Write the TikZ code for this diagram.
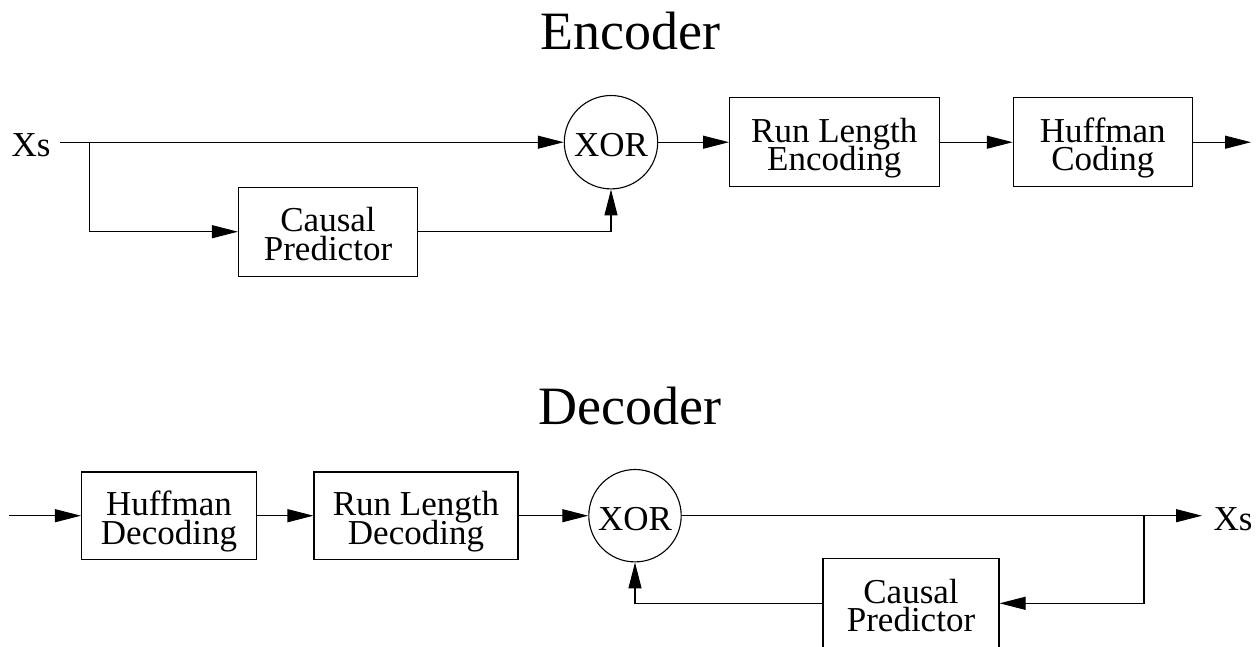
\documentclass[tikz,border=0pt]{standalone}
\usepackage{fontspec}
\setmainfont{Liberation Serif}
\usetikzlibrary{arrows.meta}
\newcommand\twolines[2]{\vtop{\baselineskip=28.3pt\lineskiplimit=-100pt\lineskip=0pt\halign{\hfil##\hfil\cr#1\cr#2\cr}}}
\begin{document}
\begin{tikzpicture}[x=1pt,y=-1pt,line width=1.1pt,
  blockbox/.style={draw,rectangle,inner sep=0pt,minimum height=89pt,text height=14pt,text depth=14pt,font=\fontsize{35}{28.3}\selectfont},
  xorbox/.style={draw,circle,inner sep=0pt,minimum size=93.4pt,text height=29.5pt,text depth=0pt,font=\fontsize{35}{42}\selectfont},
  arr/.style={-{Triangle[length=26pt,width=13pt]}},
  title/.style={font=\fontsize{54}{60}\selectfont,anchor=base,inner sep=0pt},
  lbl/.style={font=\fontsize{35}{42}\selectfont,inner sep=0pt,text height=29.5pt,text depth=0pt}]
\useasboundingbox (0,0) rectangle (1258,646);
% titles
\node[title] (enc) at (630.5,49) {Encoder};
\node[title] (dec) at (630,424) {Decoder};
% encoder
\node[lbl,anchor=west] (xsin) at (11,142.2) {Xs};
\coordinate (in) at (60,142.2);
\coordinate (br1) at (89.5,142.2);
\node[xorbox] (x1) at (611,142.2) {XOR};
\node[blockbox,minimum width=179pt] (cp1) at (328,231.7) {\twolines{Causal}{Predictor}};
\node[blockbox,minimum width=209.5pt] (rle) at (834.3,142.2) {\twolines{Run Length}{Encoding}};
\node[blockbox,minimum width=179pt] (huf) at (1102.8,142.2) {\twolines{Huffman}{Coding}};
\coordinate (out) at (1251,142.2);
\draw[arr] (in) -- (x1.west);
\draw[arr] (br1) |- (cp1.west);
\draw[arr] (cp1.east) -| (x1.south);
\draw[arr] (x1.east) -- (rle.west);
\draw[arr] (rle.east) -- (huf.west);
\draw[arr] (huf.east) -- (out);
% decoder
\coordinate (din) at (9,515.7);
\node[blockbox,minimum width=175pt,minimum height=87.5pt] (hd) at (169,515.7) {\twolines{Huffman}{Decoding}};
\node[blockbox,minimum width=204pt,minimum height=87.5pt] (rld) at (416,515.7) {\twolines{Run Length}{Decoding}};
\node[xorbox,minimum size=92.4pt] (x2) at (635,515.7) {XOR};
\coordinate (dout) at (1202,515.7);
\node[lbl,anchor=west] (xsout) at (1213,515.7) {Xs};
\coordinate (br2) at (1144,515.7);
\node[blockbox,minimum width=176pt,minimum height=90pt] (cp2) at (911,603.3) {\twolines{Causal}{Predictor}};
\draw[arr] (din) -- (hd.west);
\draw[arr] (hd.east) -- (rld.west);
\draw[arr] (rld.east) -- (x2.west);
\draw[arr] (x2.east) -- (dout);
\draw[arr] (br2) |- (cp2.east);
\draw[arr] (cp2.west) -| (x2.south);
\end{tikzpicture}
\end{document}
